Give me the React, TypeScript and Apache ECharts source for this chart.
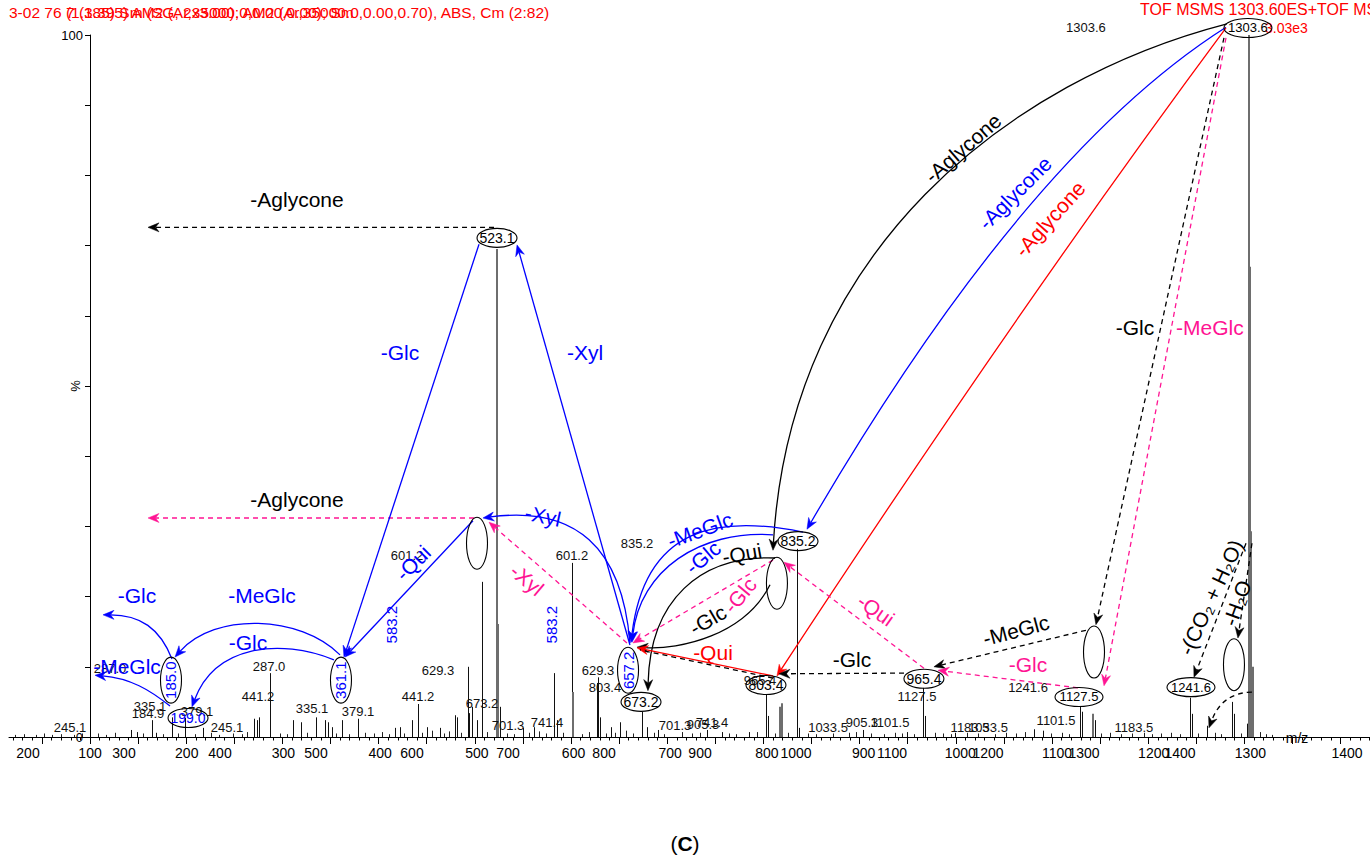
import { useEffect, useRef } from 'react';
import * as echarts from 'echarts';

const FONT = '"Liberation Sans", Arial, Helvetica, sans-serif';

// ---- spectrum (m/z, relative intensity %) ----
const MAIN_PEAKS: [number, number][] = [
  [142.6, 1.0], [148.9, 0.7], [164.4, 2.4], [168.6, 0.6], [185.2, 2.8], [198.8, 2.7], [217.5, 1.3],
  [270.5, 2.6], [273.6, 2.4], [275.7, 2.8], [287.0, 9.1], [311.0, 2.4], [319.3, 2.1], [334.9, 2.8],
  [344.3, 2.4], [347.4, 2.1], [351.6, 1.4], [362.0, 2.4], [378.6, 2.6], [417.0, 1.3], [422.2, 1.4],
  [434.7, 2.4], [441.0, 4.7], [450.3, 1.4], [463.8, 1.3], [479.4, 3.1], [481.5, 2.8], [493.0, 10.0],
  [494.0, 3.4], [497.1, 4.3], [502.3, 2.4], [507.5, 22.1], [526.2, 4.3], [550.1, 1.3], [561.5, 1.4],
  [582.3, 9.1], [585.4, 2.4], [601.2, 24.8], [627.0, 7.7], [628.1, 8.5], [630.1, 2.8], [641.6, 1.4],
  [650.9, 2.1], [673.8, 3.6], [679.0, 1.4], [690.4, 1.0], [741.4, 1.0], [757.0, 0.7], [785.1, 0.7],
  [802.7, 6.0], [804.8, 3.0], [835.2, 26.8], [836.6, 1.3], [903.5, 1.0], [949.3, 0.7], [965.9, 7.0],
  [968.0, 3.0], [999.2, 0.6], [1081.3, 1.1], [1090.7, 0.9], [1129.1, 4.4], [1131.2, 3.6], [1144.7, 2.4],
  [1243.5, 5.6], [1245.5, 3.3], [1261.1, 1.6], [1287.1, 5.0], [1289.2, 3.3], [1303.0, 1.9],
];

const GRAY_PEAKS: [number, number][] = [
  [523.1, 69.5], [524.3, 16.1], [602.1, 6.4], [817.3, 4.3], [819.4, 4.8], [1142.6, 3.3],
  [1304.5, 100], [1305.5, 67.0], [1307.0, 29.3], [1309.0, 10.0],
];

const BASELINE_PEAKS: [number, number][] = [
  [22, 0.3], [31, 0.4], [44, 0.3], [52, 0.5], [61, 0.3], [70, 0.4], [83, 0.3], [92, 0.5],
  [108, 0.5], [117, 0.3], [126, 0.6], [155, 0.5], [176, 0.4], [192, 0.5], [209, 0.4], [226, 0.6],
  [234, 0.3], [249, 0.5], [258, 0.4], [263, 0.7], [297, 0.5], [305, 0.4], [326, 0.6], [356, 0.5],
  [369, 0.4], [386, 0.6], [395, 0.5], [404, 0.7], [411, 0.4], [426, 0.5], [445, 0.6], [456, 0.9],
  [468, 0.5], [473, 0.8], [486, 0.6], [513, 0.7], [533, 0.5], [541, 0.4], [556, 0.6], [567, 0.8],
  [574, 0.5], [592, 0.6], [611, 0.4], [619, 0.7], [636, 0.5], [646, 0.6], [657, 0.9], [664, 0.5],
  [686, 0.6], [697, 0.4], [715, 0.7], [726, 0.5], [734, 0.6], [764, 0.5], [772, 0.4], [793, 0.7],
  [812, 0.5], [826, 0.6], [846, 0.5], [855, 0.4], [872, 0.5], [889, 0.6], [896, 0.7], [912, 0.5],
  [925, 0.4], [937, 0.6], [944, 0.5], [957, 0.4], [978, 0.6], [987, 0.5], [995, 0.4], [1012, 0.6],
  [1023, 0.5], [1041, 0.4], [1052, 0.6], [1063, 0.5], [1072, 0.7], [1099, 0.5], [1110, 0.6],
  [1118, 0.4], [1151, 0.5], [1160, 0.6], [1172, 0.4], [1183, 0.5], [1196, 0.6], [1204, 0.4],
  [1213, 0.5], [1224, 0.6], [1233, 0.4], [1252, 0.5], [1269, 0.6], [1276, 0.4], [1296, 0.5],
  [1316, 0.7], [1322, 0.4], [1329, 0.3],
];

// ---- axis scales ----
const MZ_RANGE: [number, number] = [15.8, 1430.6];
const SCALE_A_RANGE: [number, number] = [16.2, 1423.7];
const SCALE_B_RANGE: [number, number] = [180.2, 1597.9];
const SCALE_A_LABELS = [100, 200, 300, 400, 500, 600, 700, 800, 900, 1000, 1100, 1200, 1300, 1400];
const SCALE_B_LABELS = [200, 300, 400, 500, 600, 700, 800, 900, 1000, 1100, 1200, 1300, 1400];
const Y_LABELS = [0, 100];

const MAJOR_TICKS: number[] = [];
const MINOR_TICKS: number[] = [];
for (let v = 20; v <= 1430; v += 10) {
  if (v % 50 === 0) MAJOR_TICKS.push(v);
  else MINOR_TICKS.push(v);
}

// ---- peak labels: [text, m/z, %] ----
const PEAK_TAGS: [string, number, number][] = [
  ['245.1', 79.2, 1.4], ['335.1', 162.4, 4.3], ['184.9', 160.3, 3.3], ['379.1', 211.2, 3.7],
  ['245.1', 242.4, 1.4], ['441.2', 274.6, 5.7], ['287.0', 286.1, 10.1], ['287.0', 120.8, 9.8],
  ['335.1', 330.8, 4.1], ['379.1', 378.6, 3.7], ['601.2', 429.5, 25.8], ['629.3', 461.7, 9.5],
  ['441.2', 441.0, 5.7], ['673.2', 507.5, 4.8], ['701.3', 534.5, 1.7], ['741.4', 575.1, 2.1],
  ['601.2', 601.0, 25.9], ['835.2', 668.6, 27.6], ['629.3', 628.1, 9.5], ['803.4', 635.3, 7.1],
  ['701.3', 708.1, 1.7], ['905.3', 737.2, 1.85], ['741.4', 746.6, 2.1], ['965.4', 796.5, 8.1],
  ['1033.5', 867.2, 1.3], ['905.3', 902.5, 2.0], ['1101.5', 931.6, 2.1], ['1127.5', 959.7, 5.7],
  ['1183.5', 1014.8, 1.4], ['1033.5', 1033.5, 1.4], ['1241.6', 1075.1, 7.0], ['1101.5', 1104.2, 2.4],
  ['1183.5', 1185.2, 1.4], ['1303.6', 1135.3, 101.0],
];

type Ink = 'k' | 'b' | 'r' | 'p';
const INK: Record<Ink, string> = { k: '#000000', b: '#0000ff', r: '#ff0000', p: '#ff1493' };

// ---- circled ions ----
type Form = 'flat' | 'wide' | 'tall' | 'upright';
const RING_FORMS: Record<Form, { rx: number; ry: number; font: number }> = {
  flat: { rx: 20, ry: 9.5, font: 14 },
  wide: { rx: 24, ry: 9.5, font: 13 },
  tall: { rx: 10.5, ry: 26, font: 14 },
  upright: { rx: 10.5, ry: 23, font: 15 },
};
const RINGS: { at: [number, number]; s?: string; c?: Ink; form: Form }[] = [
  { at: [1303.7, 101.0], s: '1303.6', form: 'wide' },
  { at: [523.1, 71.1], s: '523.1', form: 'flat' },
  { at: [502.3, 27.6], form: 'tall' },
  { at: [836.0, 27.9], s: '835.2', form: 'flat' },
  { at: [814.1, 21.9], form: 'tall' },
  { at: [659.3, 9.5], s: '657.2', c: 'b', form: 'upright' },
  { at: [672.8, 5.0], s: '673.2', form: 'flat' },
  { at: [802.7, 7.4], s: '803.4', form: 'flat' },
  { at: [966.9, 8.3], s: '965.4', form: 'flat' },
  { at: [1143.7, 12.1], form: 'tall' },
  { at: [1128.1, 5.7], s: '1127.5', form: 'wide' },
  { at: [1244.5, 7.1], s: '1241.6', form: 'wide' },
  { at: [1289.2, 10.3], form: 'tall' },
  { at: [360.9, 8.1], s: '361.1', c: 'b', form: 'upright' },
  { at: [184.2, 8.1], s: '185.0', c: 'b', form: 'upright' },
  { at: [201.9, 2.7], s: '199.0', c: 'b', form: 'flat' },
];

// ---- fragmentation arrows ----
type Arrow = { from: [number, number]; to: [number, number]; via?: [number, number][]; c: Ink; dash?: boolean; head?: boolean };
const ARROWS: Arrow[] = [
  // losses from the precursor 1303.6
  { from: [1281.9, 101.6], via: [[1056.3, 93.6], [827.7, 69.4]], to: [810.0, 26.6], c: 'k' },
  { from: [1280.9, 101.1], via: [[1071.9, 82.9]], to: [845.3, 29.6], c: 'b' },
  { from: [1280.9, 101.0], via: [[1064.7, 61.1]], to: [814.1, 8.7], c: 'r' },
  { from: [1278.8, 99.6], to: [1145.7, 16.0], c: 'k', dash: true },
  { from: [1280.9, 99.6], to: [1154.1, 7.3], c: 'p', dash: true },
  // aglycone losses
  { from: [520.0, 72.6], to: [160.3, 72.6], c: 'k', dash: true },
  { from: [499.2, 31.2], to: [160.3, 31.2], c: 'p', dash: true },
  // 657.2 -> 523.1 -> 361.1
  { from: [504.4, 70.2], to: [364.0, 11.4], c: 'b' },
  { from: [661.3, 13.1], to: [543.9, 70.1], c: 'b' },
  { from: [498.1, 30.8], to: [365.1, 11.4], c: 'b' },
  { from: [661.3, 13.4], via: [[648.9, 33.8]], to: [508.5, 31.2], c: 'b' },
  { from: [658.2, 13.4], to: [514.8, 30.6], c: 'p', dash: true },
  // into 657.2 / 673.2
  { from: [841.2, 29.2], via: [[754.9, 31.6], [676.9, 30.2]], to: [662.4, 13.5], c: 'b' },
  { from: [810.0, 28.8], via: [[734.1, 29.5], [671.7, 23.8]], to: [663.4, 13.5], c: 'b' },
  { from: [812.1, 25.5], via: [[734.1, 25.9], [682.1, 19.5]], to: [680.0, 6.6], c: 'k' },
  { from: [806.9, 21.7], via: [[780.9, 14.5], [713.3, 12.4]], to: [668.6, 12.8], c: 'k' },
  { from: [810.0, 25.2], to: [664.4, 13.4], c: 'p', dash: true },
  { from: [810.0, 8.7], to: [668.6, 12.7], c: 'r' },
  { from: [810.0, 8.4], to: [671.7, 12.4], c: 'k', dash: true, head: false },
  // around 965.4
  { from: [946.2, 9.1], to: [816.2, 9.0], c: 'k', dash: true },
  { from: [966.9, 9.8], to: [821.4, 24.9], c: 'p', dash: true },
  { from: [1135.3, 15.2], to: [977.3, 10.0], c: 'k', dash: true },
  { from: [1127.0, 7.0], to: [981.5, 9.5], c: 'p', dash: true },
  // water and CO2 losses
  { from: [1301.7, 27.6], to: [1247.6, 8.5], c: 'k', dash: true },
  { from: [1307.9, 27.6], to: [1293.3, 14.1], c: 'k', dash: true },
  { from: [1307.9, 6.4], via: [[1276.7, 6.3]], to: [1263.2, 1.3], c: 'k', dash: true },
  // small fragments
  { from: [359.9, 11.7], via: [[318.3, 17.4], [229.9, 17.8]], to: [188.4, 11.4], c: 'b' },
  { from: [353.6, 11.0], via: [[297.5, 14.1], [229.9, 13.1]], to: [206.0, 4.3], c: 'b' },
  { from: [185.2, 11.1], via: [[172.8, 15.5], [152.0, 17.4]], to: [113.5, 17.4], c: 'b' },
  { from: [183.2, 4.4], via: [[162.4, 6.7], [141.6, 8.4]], to: [105.2, 8.8], c: 'b' },
];

// ---- neutral-loss captions ----
const NOTES: { s: string; at: [number, number]; rot: number; c: Ink; mass?: boolean }[] = [
  { s: '-Aglycone', at: [315.2, 76.6], rot: 0, c: 'k' },
  { s: '-Aglycone', at: [315.2, 33.9], rot: 0, c: 'k' },
  { s: '-Glc', at: [422.2, 54.8], rot: 0, c: 'b' },
  { s: '-Xyl', at: [614.6, 54.8], rot: 0, c: 'b' },
  { s: '-Aglycone', at: [1007.5, 83.9], rot: 41, c: 'k' },
  { s: '-Aglycone', at: [1061.5, 77.5], rot: 45, c: 'b' },
  { s: '-Aglycone', at: [1097.9, 73.8], rot: 48, c: 'r' },
  { s: '-Glc', at: [1186.3, 58.3], rot: 0, c: 'k' },
  { s: '-MeGlc', at: [1264.2, 58.3], rot: 0, c: 'p' },
  { s: '-Qui', at: [435.8, 24.8], rot: 45, c: 'b' },
  { s: '583.2', at: [413.9, 16.0], rot: 90, c: 'b', mass: true },
  { s: '583.2', at: [580.2, 16.0], rot: 90, c: 'b', mass: true },
  { s: '-Xyl', at: [570.9, 31.5], rot: -12, c: 'b' },
  { s: '-Xyl', at: [554.3, 22.4], rot: -40, c: 'p' },
  { s: '-MeGlc', at: [734.1, 29.5], rot: 20, c: 'b' },
  { s: '-Glc', at: [737.2, 25.6], rot: 40, c: 'b' },
  { s: '-Qui', at: [777.8, 26.1], rot: 10, c: 'k' },
  { s: '-Glc', at: [775.7, 20.2], rot: 50, c: 'p' },
  { s: '-Glc', at: [742.4, 16.7], rot: 30, c: 'k' },
  { s: '-Qui', at: [747.6, 12.1], rot: 0, c: 'r' },
  { s: '-Glc', at: [892.1, 11.0], rot: 0, c: 'k' },
  { s: '-Qui', at: [917.0, 18.1], rot: -35, c: 'p' },
  { s: '-MeGlc', at: [1062.6, 15.2], rot: 15, c: 'k' },
  { s: '-Glc', at: [1075.1, 10.3], rot: 0, c: 'p' },
  { s: '-(CO₂ + H₂O)', at: [1265.3, 19.9], rot: 65, c: 'k' },
  { s: '-H₂O', at: [1292.3, 19.1], rot: 70, c: 'k' },
  { s: '-Glc', at: [148.9, 20.2], rot: 0, c: 'b' },
  { s: '-MeGlc', at: [278.8, 20.2], rot: 0, c: 'b' },
  { s: '-Glc', at: [264.2, 13.5], rot: 0, c: 'b' },
  { s: '-MeGlc', at: [138.5, 10.1], rot: 0, c: 'b' },
];

const HEADER_LEFT = '3-02 76 (1.385) Sm (SG, 2x3.00); AM2 (Ar,35000.0,0.00,0.70), ABS, Cm (2:82)';
const HEADER_LEFT_2 = '7 (1.395) AM2 (Ar,35000.0,0.00,0.00); Sm';
const HEADER_RIGHT = 'TOF MSMS 1303.60ES+TOF MS';
const HEADER_SCALE = '3.03e3';

const HEAD = { len: 11, half: 4.5, notch: 3.5 };

function peakSeries(data: [number, number][], color: string, width: number) {
  return {
    type: 'custom',
    xAxisIndex: 0,
    yAxisIndex: 0,
    silent: true,
    clip: false,
    z: 2,
    data,
    encode: { x: 0, y: 1 },
    renderItem: (_p: any, api: any) => {
      const mz = api.value(0);
      const h = api.value(1);
      const b = api.coord([mz, 0]);
      const t = api.coord([mz, h]);
      const x = Math.round(b[0]) + (width % 2 ? 0.5 : 0);
      return {
        type: 'line',
        shape: { x1: x, y1: b[1], x2: x, y2: t[1] },
        style: { stroke: color, lineWidth: width },
      };
    },
  };
}

function buildOption(): any {
  const labelAxis = (range: [number, number], values: number[]) => ({
    type: 'value',
    min: range[0],
    max: range[1],
    position: 'bottom',
    axisLine: { show: false, onZero: false },
    axisTick: { show: false },
    splitLine: { show: false },
    axisLabel: {
      customValues: values,
      formatter: (v: number) => String(v),
      margin: 9,
      fontSize: 14,
      color: '#000',
      fontFamily: FONT,
    },
  });

  return {
    animation: false,
    backgroundColor: '#ffffff',
    grid: { left: 9, right: 0, top: 35, bottom: 131, containLabel: false, outerBoundsMode: 'none' },
    xAxis: [
      {
        type: 'value',
        min: MZ_RANGE[0],
        max: MZ_RANGE[1],
        position: 'bottom',
        axisLine: { show: true, onZero: false, lineStyle: { color: '#000', width: 1 } },
        axisTick: { show: true, customValues: MAJOR_TICKS, length: 7, lineStyle: { color: '#000', width: 1 } },
        axisLabel: { show: false },
        splitLine: { show: false },
      },
      {
        type: 'value',
        min: MZ_RANGE[0],
        max: MZ_RANGE[1],
        position: 'bottom',
        axisLine: { show: false, onZero: false },
        axisTick: { show: true, customValues: MINOR_TICKS, length: 3.5, lineStyle: { color: '#000', width: 1 } },
        axisLabel: { show: false },
        splitLine: { show: false },
      },
      labelAxis(SCALE_A_RANGE, SCALE_A_LABELS),
      labelAxis(SCALE_B_RANGE, SCALE_B_LABELS),
    ],
    yAxis: {
      type: 'value',
      min: 0,
      max: 100,
      interval: 10,
      position: 'left',
      offset: -81,
      axisLine: { show: true, onZero: false, lineStyle: { color: '#000', width: 1 } },
      axisTick: { show: true, length: 5, lineStyle: { color: '#000', width: 1 } },
      axisLabel: {
        margin: 7,
        fontSize: 13,
        color: '#000',
        fontFamily: FONT,
        formatter: (v: number) => (Y_LABELS.includes(v) ? String(v) : ''),
      },
      splitLine: { show: false },
    },
    series: [
      peakSeries(BASELINE_PEAKS, '#222222', 1),
      peakSeries(MAIN_PEAKS, '#111111', 1),
      peakSeries(GRAY_PEAKS, '#6e6e6e', 2),
      {
        type: 'custom',
        silent: true,
        clip: false,
        z: 4,
        data: PEAK_TAGS.map((t) => [t[1], t[2]]),
        encode: { x: 0, y: 1 },
        renderItem: (params: any, api: any) => {
          const t = PEAK_TAGS[params.dataIndex];
          const p = api.coord([t[1], t[2]]);
          return {
            type: 'text',
            x: p[0],
            y: p[1],
            style: { text: t[0], fill: '#111', fontSize: 13, fontFamily: FONT, align: 'center', verticalAlign: 'middle' },
          };
        },
      },
      {
        type: 'custom',
        silent: true,
        clip: false,
        z: 5,
        data: ARROWS.map((a) => a.from),
        encode: { x: 0, y: 1 },
        renderItem: (params: any, api: any) => {
          const a = ARROWS[params.dataIndex];
          const p0 = api.coord(a.from);
          const p1 = api.coord(a.to);
          const cps = (a.via ?? []).map((v) => api.coord(v));
          const ink = INK[a.c];
          const prev = cps.length ? cps[cps.length - 1] : p0;
          let dx = p1[0] - prev[0];
          let dy = p1[1] - prev[1];
          const n = Math.hypot(dx, dy) || 1;
          dx /= n;
          dy /= n;
          const withHead = a.head !== false;
          const back = withHead ? HEAD.len - HEAD.notch : 0;
          const e = [p1[0] - dx * back, p1[1] - dy * back];
          const lineStyle: any = { stroke: ink, lineWidth: 1.3, fill: 'none', lineDash: a.dash ? [5, 4] : null };
          let path: any;
          if (!cps.length) {
            path = { type: 'line', shape: { x1: p0[0], y1: p0[1], x2: e[0], y2: e[1] }, style: lineStyle };
          } else {
            const shape: any = { x1: p0[0], y1: p0[1], x2: e[0], y2: e[1], cpx1: cps[0][0], cpy1: cps[0][1] };
            if (cps[1]) {
              shape.cpx2 = cps[1][0];
              shape.cpy2 = cps[1][1];
            }
            path = { type: 'bezierCurve', shape, style: lineStyle };
          }
          const children: any[] = [path];
          if (withHead) {
            const nx = -dy;
            const ny = dx;
            const bx = p1[0] - dx * HEAD.len;
            const by = p1[1] - dy * HEAD.len;
            const mx = p1[0] - dx * (HEAD.len - HEAD.notch);
            const my = p1[1] - dy * (HEAD.len - HEAD.notch);
            children.push({
              type: 'polygon',
              shape: {
                points: [
                  [p1[0], p1[1]],
                  [bx + nx * HEAD.half, by + ny * HEAD.half],
                  [mx, my],
                  [bx - nx * HEAD.half, by - ny * HEAD.half],
                ],
              },
              style: { fill: ink, stroke: ink, lineWidth: 0.5 },
            });
          }
          return { type: 'group', children };
        },
      },
      {
        type: 'custom',
        silent: true,
        clip: false,
        z: 6,
        data: RINGS.map((r) => r.at),
        encode: { x: 0, y: 1 },
        renderItem: (params: any, api: any) => {
          const r = RINGS[params.dataIndex];
          const c = api.coord(r.at);
          const f = RING_FORMS[r.form];
          const children: any[] = [
            { type: 'ellipse', shape: { cx: c[0], cy: c[1], rx: f.rx, ry: f.ry }, style: { fill: 'none', stroke: '#000', lineWidth: 1.1 } },
          ];
          if (r.s) {
            children.push({
              type: 'text',
              x: c[0],
              y: c[1],
              rotation: r.form === 'upright' ? Math.PI / 2 : 0,
              style: { text: r.s, fill: INK[r.c ?? 'k'], fontSize: f.font, fontFamily: FONT, align: 'center', verticalAlign: 'middle' },
            });
          }
          return { type: 'group', children };
        },
      },
      {
        type: 'custom',
        silent: true,
        clip: false,
        z: 7,
        data: NOTES.map((t) => t.at),
        encode: { x: 0, y: 1 },
        renderItem: (params: any, api: any) => {
          const t = NOTES[params.dataIndex];
          const p = api.coord(t.at);
          return {
            type: 'text',
            x: p[0],
            y: p[1],
            rotation: (t.rot * Math.PI) / 180,
            style: {
              text: t.s,
              fill: INK[t.c],
              fontSize: t.mass ? 15 : 21,
              fontFamily: FONT,
              align: 'center',
              verticalAlign: 'middle',
            },
          };
        },
      },
    ],
    graphic: [
      { type: 'text', x: 9, y: 12, style: { text: HEADER_LEFT, fill: '#ff0000', fontSize: 15.5, fontFamily: FONT, verticalAlign: 'middle' } },
      { type: 'text', x: 66, y: 12, style: { text: HEADER_LEFT_2, fill: '#ff0000', fontSize: 15.5, fontFamily: FONT, verticalAlign: 'middle' } },
      { type: 'text', x: 1140, y: 9, style: { text: HEADER_RIGHT, fill: '#ff0000', fontSize: 16, fontFamily: FONT, verticalAlign: 'middle' } },
      { type: 'text', x: 1265, y: 28, style: { text: HEADER_SCALE, fill: '#ff0000', fontSize: 14, fontFamily: FONT, verticalAlign: 'middle' } },
      { type: 'text', x: 1297, y: 738, style: { text: 'm/z', fill: '#000', fontSize: 14, fontFamily: FONT, align: 'center', verticalAlign: 'middle' } },
      {
        type: 'text',
        x: 75,
        y: 386,
        rotation: Math.PI / 2,
        style: { text: '%', fill: '#000', fontSize: 13, fontFamily: FONT, align: 'center', verticalAlign: 'middle' },
      },
      {
        type: 'text',
        x: 685,
        y: 843,
        style: {
          text: '({b|C})',
          fill: '#000',
          fontSize: 21,
          fontFamily: FONT,
          align: 'center',
          verticalAlign: 'middle',
          rich: { b: { fontWeight: 'bold', fontSize: 21, fontFamily: FONT, fill: '#000' } },
        },
      },
    ],
  };
}

export default function App() {
  const ref = useRef<HTMLDivElement>(null);
  useEffect(() => {
    const el = ref.current;
    if (!el) return;
    const chart = echarts.init(el, null, { renderer: 'svg' });
    chart.setOption(buildOption());
    return () => chart.dispose();
  }, []);
  return (
    <div
      ref={ref}
      style={{ position: 'fixed', left: 0, top: 0, width: 1370, height: 868, background: '#ffffff' }}
    />
  );
}
